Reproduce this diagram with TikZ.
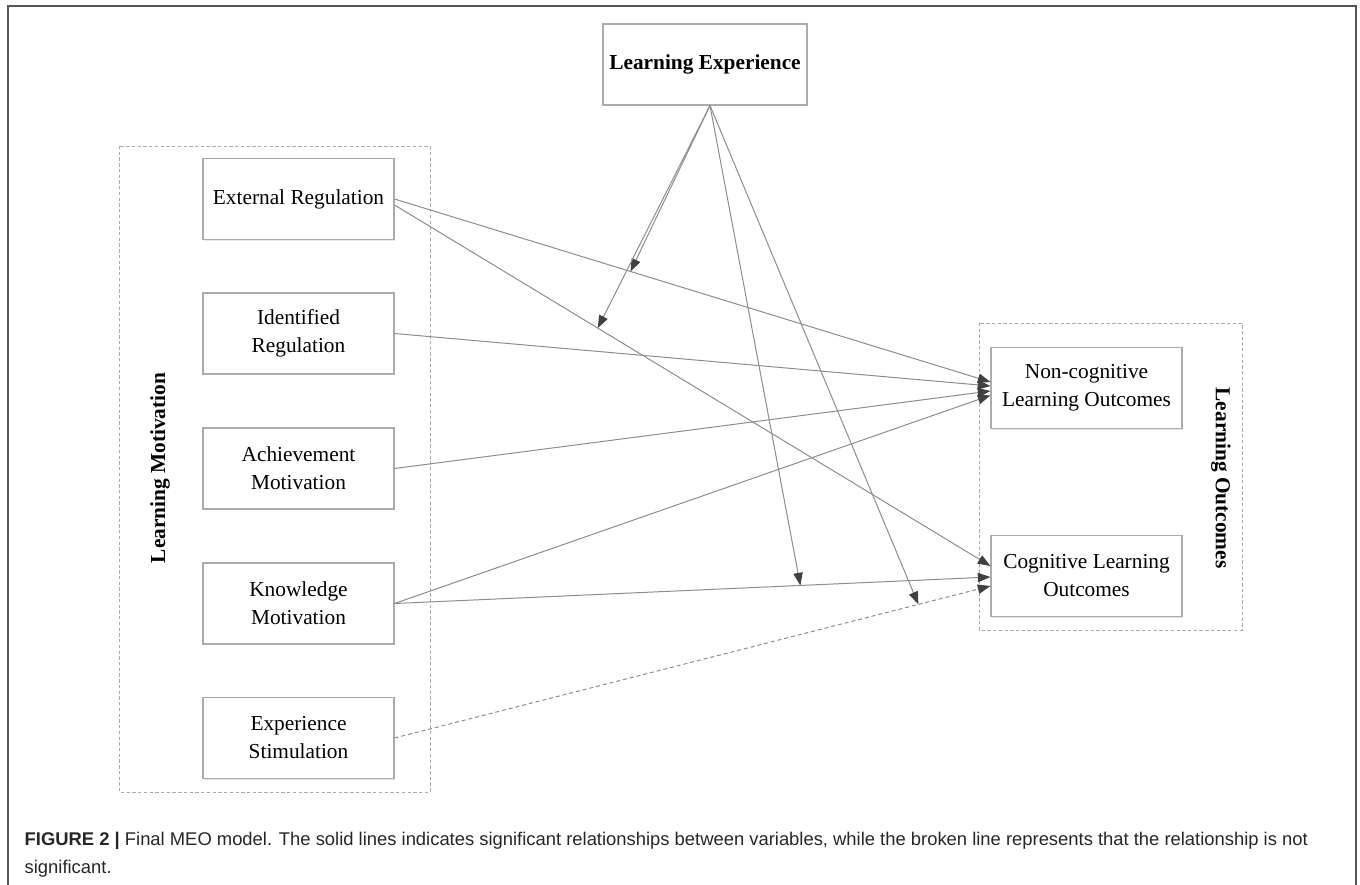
\documentclass[tikz,border=0pt]{standalone}
\usepackage{fontspec}
\setmainfont{Liberation Serif}
\newfontfamily\capfont{Liberation Sans}
\usetikzlibrary{arrows.meta,shadows}
\definecolor{linegray}{HTML}{8C8C8C}
\definecolor{tipgray}{HTML}{404040}
\definecolor{boxgray}{HTML}{ABABAB}
\definecolor{framegray}{HTML}{555555}
\tikzset{
  varbox/.style={draw=boxgray, line width=0.8pt, fill=white, minimum width=143.25pt, minimum height=60.75pt, align=center, font=\fontsize{16}{19}\selectfont, inner sep=0pt,
    drop shadow={shadow xshift=0.8pt, shadow yshift=-0.8pt, opacity=0.2, fill=gray}},
  groupbox/.style={draw=boxgray, dashed, dash pattern=on 2.5pt off 1.8pt, line width=0.6pt},
  grouplabel/.style={font=\bfseries\fontsize{16}{19}\selectfont},
  rel/.style={draw=linegray, line width=0.75pt, -{Triangle[length=9.5pt,width=7pt,fill=tipgray,color=tipgray]}},
  nsrel/.style={rel, dashed, dash pattern=on 3pt off 2.2pt},
}
\begin{document}
\begin{tikzpicture}[x=0.75pt,y=-0.75pt]
\useasboundingbox (0,0) rectangle (1360,885);
% outer frame
\draw[framegray, line width=1.5pt] (8,900) -- (8,6) -- (1356,6) -- (1356,900);
% group boxes
\draw[groupbox] (119,146) rectangle (430,792);
\draw[groupbox] (979,323) rectangle (1242,630);
\node[grouplabel, rotate=90] (lm) at (160,468) {Learning Motivation};
\node[grouplabel, rotate=-90] (lo) at (1221,478) {Learning Outcomes};
% nodes
\node[varbox, minimum width=153pt, font=\bfseries\fontsize{16}{19}\selectfont] (le) at (705,64.5) {Learning Experience};
\node[varbox] (er) at (298.5,199) {External Regulation};
\node[varbox] (ir) at (298.5,333.5) {Identified\\[2pt]Regulation};
\node[varbox] (am) at (298.5,468.5) {Achievement\\[2pt]Motivation};
\node[varbox] (km) at (298.5,603.5) {Knowledge\\[2pt]Motivation};
\node[varbox] (es) at (298.5,738) {Experience\\[2pt]Stimulation};
\node[varbox] (nc) at (1086.5,388) {Non-cognitive\\[2pt]Learning Outcomes};
\node[varbox] (cl) at (1086.5,576) {Cognitive Learning\\[2pt]Outcomes};
% end points
\coordinate (nc1) at ([yshift=4.5pt]nc.west);
\coordinate (nc2) at ([yshift=1.5pt]nc.west);
\coordinate (nc3) at ([yshift=-2.25pt]nc.west);
\coordinate (nc4) at ([yshift=-5.5pt]nc.west);
\coordinate (cl1) at ([yshift=7.5pt]cl.west);
\coordinate (cl2) at ([yshift=-0.75pt]cl.west);
\coordinate (cl3) at ([yshift=-7.5pt]cl.west);
\coordinate (er2) at ([yshift=-4.5pt]er.east);
\coordinate (leb) at ([xshift=3.75pt]le.south);
% main relationships
\draw[rel] (er.east) -- coordinate[pos=0.396] (m1) (nc1);
\draw[rel] (er2) -- coordinate[pos=0.341] (m2) (cl1);
\draw[rel] (ir.east) -- (nc2);
\draw[rel] (am.east) -- (nc3);
\draw[rel] (km.east) -- (nc4);
\draw[rel] (km.east) -- coordinate[pos=0.681] (m3) (cl2);
\draw[nsrel] (es.east) -- coordinate[pos=0.879] (m4) (cl3);
% moderation
\draw[rel] (leb) -- (m1);
\draw[rel] (leb) -- (m2);
\draw[rel] (leb) -- (m3);
\draw[rel] (leb) -- (m4);
% caption
\node[anchor=west, align=left, font=\capfont\fontsize{13.8}{21}\selectfont, text=black!85] (cap) at (20,855)
{{\bfseries FIGURE 2 |} Final MEO model. The solid lines indicates significant relationships between variables, while the broken line represents that the relationship is not\\significant.};
\end{tikzpicture}
\end{document}
